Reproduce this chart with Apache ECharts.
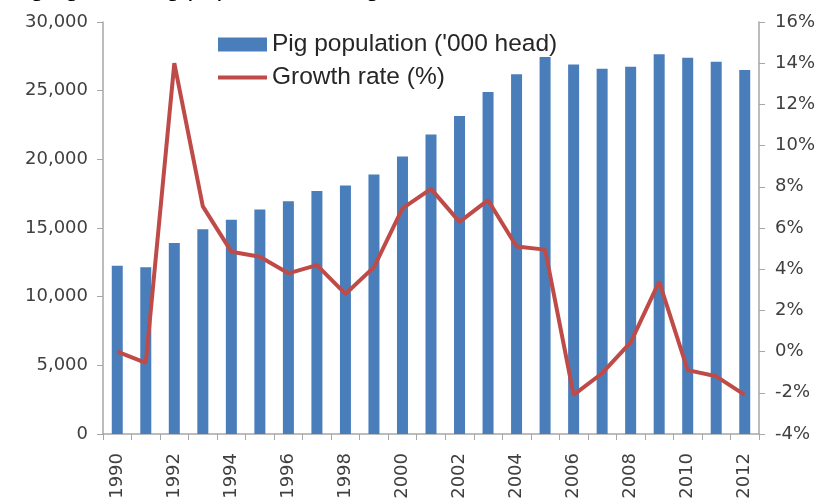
<!DOCTYPE html>
<html>
<head>
<meta charset="utf-8">
<script src="https://cdn.jsdelivr.net/npm/echarts@6/dist/echarts.min.js"></script>
<style>html,body{margin:0;padding:0;background:#fff}#c{width:826px;height:504px}</style>
</head>
<body>
<div id="c"></div>
<script>
var years = ['1990','1991','1992','1993','1994','1995','1996','1997','1998','1999','2000','2001','2002','2003','2004','2005','2006','2007','2008','2009','2010','2011','2012'];
var pigPopulation = [12260,12150,13900,14900,15600,16350,16950,17700,18100,18900,20200,21800,23150,24900,26200,27450,26900,26600,26750,27650,27400,27100,26500];
var growthRate = [0.0,-0.55,14.0,7.05,4.85,4.6,3.8,4.2,2.8,4.1,6.95,7.9,6.3,7.35,5.1,4.95,-2.1,-1.05,0.45,3.4,-0.9,-1.2,-2.1];
var leftTicks = {min:0, max:30000, interval:5000};
var rightTicks = {min:-4, max:16, interval:2};
var titleText = 'Figure 1: Changing total Pig population and growth rate';

var axisColor = '#a6a6a6';
var labelColor = '#404040';
var lineIcon = 'path://M0,0L0.01,0L0,0.01Z M0,14L0.01,14L0,13.99Z M0,5L49,5L49,9L0,9Z';
var chart = echarts.init(document.getElementById('c'));
chart.setOption({
  animation: false,
  backgroundColor: '#fff',
  graphic: [{
    type: 'text', left: -142, top: -24,
    style: {text: titleText, font: '26px "Liberation Sans", Arial, sans-serif', fill: '#000'}
  }],
  legend: {
    orient: 'vertical', left: 218, top: 32, padding: 0,
    itemWidth: 49, itemHeight: 14, itemGap: 8,
    textStyle: {fontFamily: '"Liberation Sans", Arial, sans-serif', fontSize: 24.5, color: '#262626', lineHeight: 24},
    data: [{name: "Pig population ('000 head)", icon: 'rect'}, {name: 'Growth rate (%)', icon: lineIcon, itemStyle: {color: '#be4b48'}}]
  },
  grid: {left: 103, right: 67, top: 22, bottom: 70, containLabel: false},
  xAxis: {
    type: 'category', data: years,
    axisLine: {lineStyle: {color: axisColor, width: 1.5}},
    axisTick: {show: true, interval: 0, length: 6, lineStyle: {color: axisColor}},
    axisLabel: {interval: 1, rotate: 90, margin: 19, color: labelColor, fontFamily: '"DejaVu Sans", sans-serif', fontSize: 18}
  },
  yAxis: [{
    type: 'value', min: leftTicks.min, max: leftTicks.max, interval: leftTicks.interval,
    splitLine: {show: false},
    axisLine: {show: true, lineStyle: {color: axisColor, width: 1.5}},
    axisTick: {show: true, length: 6, lineStyle: {color: axisColor}},
    axisLabel: {margin: 15, color: labelColor, fontFamily: '"DejaVu Sans", sans-serif', fontSize: 18,
      formatter: function (v) { return v.toLocaleString('en-US'); }}
  }, {
    type: 'value', position: 'right', min: rightTicks.min, max: rightTicks.max, interval: rightTicks.interval,
    splitLine: {show: false},
    axisLine: {show: true, lineStyle: {color: axisColor, width: 1.5}},
    axisTick: {show: true, length: 6, lineStyle: {color: axisColor}},
    axisLabel: {margin: 16, color: labelColor, fontFamily: '"DejaVu Sans", sans-serif', fontSize: 18,
      formatter: '{value}%'}
  }],
  series: [{
    name: "Pig population ('000 head)", type: 'bar', data: pigPopulation, yAxisIndex: 0,
    barWidth: 11, itemStyle: {color: '#4a7ebb'}
  }, {
    name: 'Growth rate (%)', type: 'line', data: growthRate, yAxisIndex: 1,
    symbol: 'none', lineStyle: {color: '#be4b48', width: 4}, itemStyle: {color: '#be4b48'}
  }]
});
</script>
</body>
</html>
